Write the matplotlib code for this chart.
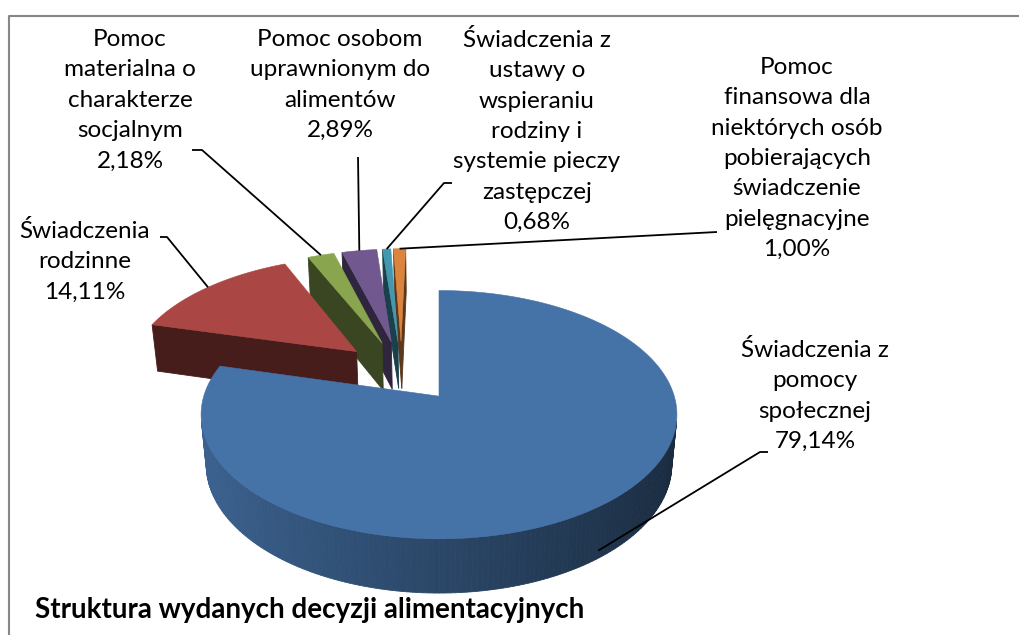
import numpy as np
import matplotlib.pyplot as plt
from matplotlib.patches import Polygon

plt.rcParams['font.family'] = ['Lato', 'DejaVu Sans']

# data
names = ['Świadczenia z\npomocy\nspołecznej',
         'Świadczenia\nrodzinne',
         'Pomoc\nmaterialna o\ncharakterze\nsocjalnym',
         'Pomoc osobom\nuprawnionym do\nalimentów',
         'Świadczenia z\nustawy o\nwspieraniu\nrodziny i\nsystemie pieczy\nzastępczej',
         'Pomoc\nfinansowa dla\nniektórych osób\npobierających\nświadczenie\npielęgnacyjne']
shares = [79.14, 14.11, 2.18, 2.89, 0.68, 1.00]
colors = ['#4572a7', '#aa4643', '#89a54e', '#71588f', '#4198af', '#db843d']
title = 'Struktura wydanych decyzji alimentacyjnych'

# label layout (pixels): text centre x / top y, and leader path from text to slice
label_xy = [(815, 339), (85, 220), (130, 29), (340, 29), (537, 29), (797, 57)]
label_path = [[(768, 452), (760, 452)],
              [(160, 237), (167, 237)],
              [(192, 150), (202, 150)],
              [(358, 157)],
              [(452, 183), (444, 183)],
              [(717, 232)]]

# 3d view settings
PHI = np.radians(30)   # elevation
FD = 6.0               # perspective distance
K = 228                # pixels per radius
EXP = 0.27             # explosion
DEPTH = 0.25           # pie thickness
CX, CY = 439, 371

fracs = np.array(shares) / sum(shares)
ends = 90 - 360 * np.cumsum(fracs)
starts = np.concatenate([[90], ends[:-1]])
mids = np.radians((starts + ends) / 2)
offsets = EXP * np.column_stack([np.cos(mids), np.sin(mids)])
CX0 = offsets[0, 0]
cam = np.array([CX0, -FD * np.cos(PHI), FD * np.sin(PHI)])


def depth(x, y, z):
    return y * np.cos(PHI) - z * np.sin(PHI)


def project(x, y, z):
    u = x - CX0
    v = y * np.sin(PHI) + z * np.cos(PHI)
    s = FD / (FD + depth(x, y, z))
    return CX + K * u * s, CY - K * v * s


def shade(c, f):
    rgb = np.array(plt.matplotlib.colors.to_rgb(c))
    return tuple(np.clip(rgb * f, 0, 1))


fig = plt.figure(figsize=(10.19, 6.35), dpi=100)
ax = fig.add_axes([0, 0, 1, 1])
ax.set_xlim(0, 1019)
ax.set_ylim(635, 0)
ax.axis('off')

# draw slices far to near
keys = [depth(offsets[i, 0] + 0.5 * np.cos(mids[i]), offsets[i, 1] + 0.5 * np.sin(mids[i]), 0)
        for i in range(len(shares))]
for i in np.argsort(keys)[::-1]:
    ox, oy = offsets[i]
    a1, a2 = np.radians(ends[i]), np.radians(starts[i])
    th = np.linspace(a1, a2, max(4, int(abs(a2 - a1) / 0.02)))
    faces = []
    # outer wall strips
    for j in range(len(th) - 1):
        tm = (th[j] + th[j + 1]) / 2
        p = np.array([ox + np.cos(tm), oy + np.sin(tm), -DEPTH / 2])
        if np.dot([np.cos(tm), np.sin(tm), 0], cam - p) <= 0:
            continue
        pts = [project(ox + np.cos(t), oy + np.sin(t), z)
               for t, z in [(th[j], 0), (th[j + 1], 0), (th[j + 1], -DEPTH), (th[j], -DEPTH)]]
        f = 0.62 - 0.25 * np.cos(tm)
        faces.append((depth(*p), pts, shade(colors[i], f)))
    # radial walls
    for a, n in [(a1, (np.sin(a1), -np.cos(a1))), (a2, (-np.sin(a2), np.cos(a2)))]:
        p = np.array([ox + 0.5 * np.cos(a), oy + 0.5 * np.sin(a), -DEPTH / 2])
        if np.dot([n[0], n[1], 0], cam - p) <= 1e-6:
            continue
        pts = [project(ox, oy, 0), project(ox + np.cos(a), oy + np.sin(a), 0),
               project(ox + np.cos(a), oy + np.sin(a), -DEPTH), project(ox, oy, -DEPTH)]
        faces.append((depth(*p), pts, shade(colors[i], 0.42)))
    for _, pts, c in sorted(faces, key=lambda t: -t[0]):
        ax.add_patch(Polygon(pts, closed=True, facecolor=c, edgecolor=c, lw=0.6))
    top = [project(ox, oy, 0)] + [project(ox + np.cos(t), oy + np.sin(t), 0) for t in th]
    ax.add_patch(Polygon(top, closed=True, facecolor=colors[i], edgecolor=colors[i], lw=0.4))

# labels with leader lines
for i in range(len(shares)):
    m = mids[i]
    z = -0.85 * DEPTH if np.sin(m) < 0 else 0
    ax_, ay_ = project(offsets[i, 0] + np.cos(m), offsets[i, 1] + np.sin(m), z)
    path = label_path[i] + [(ax_, ay_)]
    ax.plot([p[0] for p in path], [p[1] for p in path], color='black', lw=1.3,
            solid_capstyle='butt')
    pct = f'{shares[i]:.2f}'.replace('.', ',') + '%'
    ax.text(label_xy[i][0], label_xy[i][1], names[i] + '\n' + pct, ha='center', va='top',
            multialignment='center', fontsize=17.5, linespacing=1.55, color='black')

ax.plot([9, 9, 1019], [635, 16, 16], color='#878787', lw=1.5)
ax.text(35, 610, title, ha='left', va='center', fontsize=20, fontweight='bold')

fig.savefig('out.png', dpi=100)
